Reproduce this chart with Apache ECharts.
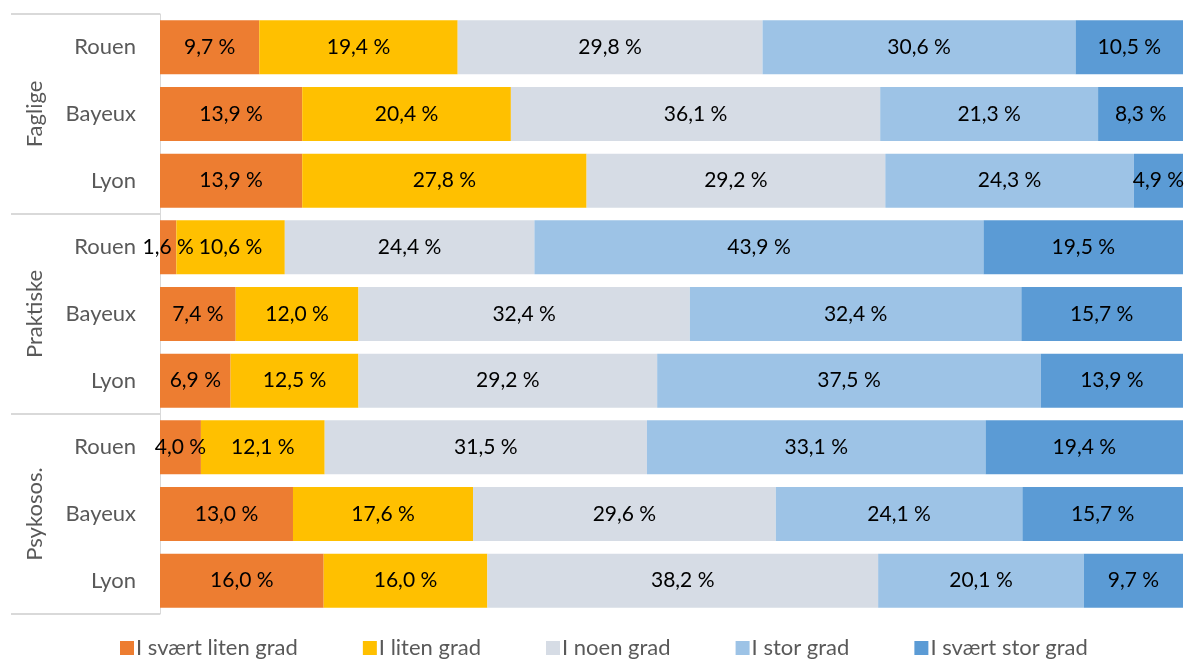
<!DOCTYPE html>
<html>
<head>
<meta charset="utf-8">
<script src="https://cdn.jsdelivr.net/npm/echarts@6/dist/echarts.min.js"></script>
<style>html,body{margin:0;padding:0;background:#fff;}#c{width:1185px;height:660px;}</style>
</head>
<body>
<div id="c"></div>
<script>
const groups = ['Faglige', 'Praktiske', 'Psykosos.'];
const rows = ['Rouen', 'Bayeux', 'Lyon', 'Rouen', 'Bayeux', 'Lyon', 'Rouen', 'Bayeux', 'Lyon'];
const seriesNames = ['I svært liten grad', 'I liten grad', 'I noen grad', 'I stor grad', 'I svært stor grad'];
const sværtLiten = [9.7, 13.9, 13.9, 1.6, 7.4, 6.9, 4.0, 13.0, 16.0];
const liten      = [19.4, 20.4, 27.8, 10.6, 12.0, 12.5, 12.1, 17.6, 16.0];
const noen       = [29.8, 36.1, 29.2, 24.4, 32.4, 29.2, 31.5, 29.6, 38.2];
const stor       = [30.6, 21.3, 24.3, 43.9, 32.4, 37.5, 33.1, 24.1, 20.1];
const sværtStor  = [10.5, 8.3, 4.9, 19.5, 15.7, 13.9, 19.4, 15.7, 9.7];

const values = [sværtLiten, liten, noen, stor, sværtStor];
const colors = ['#ED7D31', '#FFC000', '#D6DCE5', '#9DC3E6', '#5B9BD5'];
const FONT = 'Lato';

const chart = echarts.init(document.getElementById('c'));
chart.setOption({
  animation: false,
  textStyle: { fontFamily: FONT },
  grid: { left: 160, right: 2, top: 14, bottom: 46, containLabel: false },
  xAxis: { type: 'value', min: 0, max: 100, show: false },
  yAxis: [
    {
      type: 'category', data: rows, inverse: true,
      axisLine: { show: true, lineStyle: { color: '#D9D9D9', width: 1 } },
      axisTick: { show: false },
      axisLabel: { color: '#595959', fontSize: 22, margin: 24, fontFamily: FONT }
    },
    {
      type: 'category', data: groups, inverse: true, position: 'left', offset: 0,
      boundaryGap: true,
      axisLine: { show: false },
      axisTick: { show: true, length: 149, lineStyle: { color: '#D9D9D9', width: 2 } },
      axisLabel: { color: '#595959', fontSize: 22, rotate: 90, margin: 114, fontFamily: FONT }
    }
  ],
  legend: {
    data: seriesNames, top: 632, left: 115,
    itemWidth: 14, itemHeight: 14, itemGap: 65,
    icon: 'rect',
    textStyle: { color: '#595959', fontSize: 22, fontFamily: FONT, padding: [0, 0, 0, -3] }
  },
  series: seriesNames.map((name, i) => ({
    name, type: 'bar', stack: 'total', yAxisIndex: 0,
    data: values[i],
    barCategoryGap: '19%',
    itemStyle: { color: colors[i] },
    label: {
      show: true, position: 'inside', color: '#000', fontSize: 21, fontFamily: FONT,
      formatter: p => p.value.toFixed(1).replace('.', ',') + ' %'
    }
  }))
});
</script>
</body>
</html>
